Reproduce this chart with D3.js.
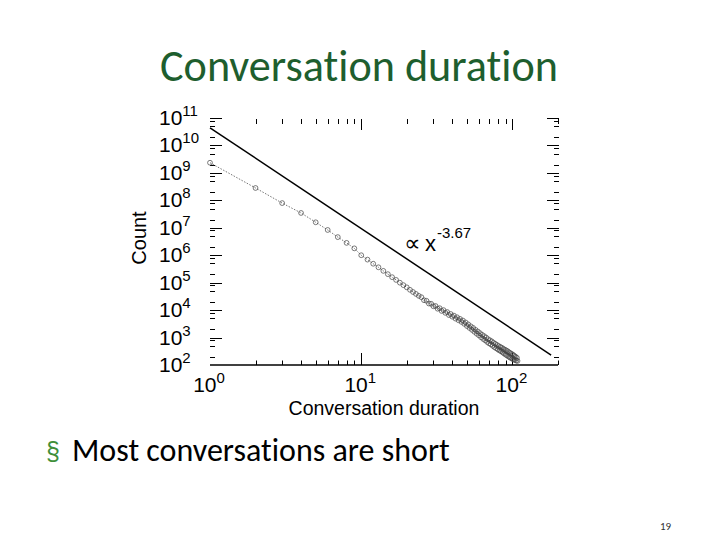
<!DOCTYPE html>
<html>
<head>
<meta charset="utf-8">
<script src="https://cdn.jsdelivr.net/npm/d3@7"></script>
<style>
  html, body { margin: 0; padding: 0; background: #fff; }
  svg { display: block; }
  text { font-variant-ligatures: none; font-feature-settings: "liga" 0, "clig" 0; }
</style>
</head>
<body>
<svg id="chart" width="720" height="540"></svg>
<script>
// ---------- data ----------
const slideTitle = "Conversation duration";
const bulletText = "Most conversations are short";
const pageNumber = "19";
const xAxisTitle = "Conversation duration";
const yAxisTitle = "Count";
const fitLabelBase = "x";
const fitLabelExp = "-3.67";

const xTickExponents = [0, 1, 2];
const yTickExponents = [2, 3, 4, 5, 6, 7, 8, 9, 10, 11];
const xMinorMultipliers = [2, 3, 4, 5, 6, 7, 8, 9];
const yMinorMultipliers = [2, 5, 8];

// durations (x) and log10 of counts (y)
const durations = [1,2,3,4,5,6,7,8,9,10,11,12,13,14,15,16,17,18,19,20,
  21,22,23,24,25,26,27,28,29,30,31,32,33,34,35,36,37,38,39,40,
  41,42,43,44,45,46,47,48,49,50,51,52,53,54,55,56,57,58,59,60,
  61,62,63,64,65,66,67,68,69,70,71,72,73,74,75,76,77,78,79,80,
  81,82,83,84,85,86,87,88,89,90,91,92,93,94,95,96,97,98,99,100,
  101,102,103,104,105,106,107,108];
const countExponents = [9.37,8.45,7.90,7.54,7.20,6.92,6.66,6.45,6.25,6.00,
  5.84,5.69,5.56,5.43,5.31,5.20,5.10,5.00,4.91,4.83,
  4.74,4.66,4.59,4.52,4.47,4.36,4.34,4.24,4.23,4.14,
  4.15,4.05,4.07,3.97,4.00,3.90,3.93,3.82,3.86,3.76,
  3.80,3.69,3.74,3.63,3.68,3.57,3.62,3.50,3.55,3.42,
  3.48,3.35,3.41,3.28,3.35,3.21,3.28,3.14,3.22,3.08,
  3.16,3.01,3.10,2.95,3.05,2.90,3.00,2.84,2.94,2.79,
  2.90,2.75,2.86,2.70,2.81,2.65,2.77,2.61,2.73,2.57,
  2.69,2.53,2.66,2.50,2.63,2.46,2.59,2.42,2.56,2.38,
  2.53,2.35,2.50,2.31,2.46,2.28,2.43,2.25,2.40,2.22,
  2.37,2.20,2.33,2.18,2.30,2.16,2.26,2.15];

// power-law reference line endpoints (x, count)
const fitX = [1, 180];
const fitCount = [4.4e10, 2.3e2];

// ---------- layout ----------
const svg = d3.select("#chart");
const plot = { left: 210, right: 558, top: 118, bottom: 365 };
const axisFont = "'Liberation Sans', Arial, sans-serif";
const titleFont = "Carlito, Calibri, Lato, 'Open Sans', sans-serif";

const x = d3.scaleLog().domain([1, 200]).range([plot.left, plot.right]);
const y = d3.scaleLog().domain([1e2, 1e11]).range([plot.bottom, plot.top]);

// slide title
const title = svg.append("text")
  .attr("x", 359).attr("y", 81)
  .attr("text-anchor", "middle")
  .attr("font-family", titleFont)
  .attr("font-size", 40)
  .attr("fill", "#1e5e2e")
  .text(slideTitle);
{
  const w = title.node().getComputedTextLength();
  title.attr("font-size", 40 * 398 / w);
}

// bullet
svg.append("text")
  .attr("x", 46).attr("y", 460)
  .attr("font-family", axisFont)
  .attr("font-size", 25)
  .attr("fill", "#3f8f3a")
  .text("§");
const bullet = svg.append("text")
  .attr("x", 72).attr("y", 461)
  .attr("font-family", titleFont)
  .attr("font-size", 28)
  .attr("fill", "#000")
  .text(bulletText);
{
  const w = bullet.node().getComputedTextLength();
  bullet.attr("font-size", 28 * 378 / w);
}

// page number
svg.append("text")
  .attr("x", 660).attr("y", 530)
  .attr("font-family", titleFont)
  .attr("font-size", 11)
  .attr("fill", "#333")
  .text(pageNumber);

// ---------- axes ----------
const g = svg.append("g");

// bottom axis line
g.append("line")
  .attr("x1", plot.left).attr("x2", plot.right)
  .attr("y1", plot.bottom).attr("y2", plot.bottom)
  .attr("stroke", "#000").attr("stroke-width", 1.5);

function ticksFor(exps, mults, maxV) {
  const out = [];
  exps.forEach(e => {
    out.push({ v: Math.pow(10, e), major: true });
    mults.forEach(m => {
      const v = m * Math.pow(10, e);
      if (v <= maxV) out.push({ v, major: false });
    });
  });
  return out;
}

const xt = ticksFor(xTickExponents, xMinorMultipliers, 200).filter(d => d.v > 1);
g.selectAll(".xb").data(xt).enter().append("line")
  .attr("x1", d => Math.round(x(d.v)) + 0.5).attr("x2", d => Math.round(x(d.v)) + 0.5)
  .attr("y1", plot.bottom).attr("y2", d => plot.bottom - (d.major ? 12 : 4.5))
  .attr("stroke", "#000").attr("stroke-width", 1);
g.selectAll(".xt").data(xt).enter().append("line")
  .attr("x1", d => Math.round(x(d.v)) + 0.5).attr("x2", d => Math.round(x(d.v)) + 0.5)
  .attr("y1", plot.top + 1).attr("y2", d => plot.top + 1 + (d.major ? 11 : 5))
  .attr("stroke", "#000").attr("stroke-width", 1);

const yt = ticksFor(yTickExponents, yMinorMultipliers, 1e11).filter(d => d.v > 1e2);
g.selectAll(".yl").data(yt).enter().append("line")
  .attr("x1", plot.left).attr("x2", d => plot.left + (d.major ? 12 : 5))
  .attr("y1", d => Math.round(y(d.v)) + 0.5).attr("y2", d => Math.round(y(d.v)) + 0.5)
  .attr("stroke", "#000").attr("stroke-width", 1);
g.selectAll(".yr").data(yt).enter().append("line")
  .attr("x1", plot.right + 1).attr("x2", d => plot.right + 1 - (d.major ? 12 : 5))
  .attr("y1", d => Math.round(y(d.v)) + 0.5).attr("y2", d => Math.round(y(d.v)) + 0.5)
  .attr("stroke", "#000").attr("stroke-width", 1);

// x tick labels
xTickExponents.forEach(e => {
  const t = g.append("text")
    .attr("x", x(Math.pow(10, e)) - 1).attr("y", 392)
    .attr("text-anchor", "middle")
    .attr("font-family", axisFont).attr("font-size", 21).attr("fill", "#000");
  t.append("tspan").text("10");
  t.append("tspan").attr("dy", -9).attr("font-size", 15).text(String(e));
});

// y tick labels
yTickExponents.forEach(e => {
  const t = g.append("text")
    .attr("x", 159).attr("y", y(Math.pow(10, e)) + 7)
    .attr("font-family", axisFont).attr("font-size", 21).attr("fill", "#000");
  t.append("tspan").text("10");
  t.append("tspan").attr("dy", -9).attr("font-size", 15).text(String(e));
});

// axis titles
g.append("text")
  .attr("x", 384).attr("y", 415)
  .attr("text-anchor", "middle")
  .attr("font-family", axisFont).attr("font-size", 19.5).attr("fill", "#000")
  .text(xAxisTitle);
g.append("text")
  .attr("transform", "translate(146,238) rotate(-90)")
  .attr("text-anchor", "middle")
  .attr("font-family", axisFont).attr("font-size", 20).attr("fill", "#000")
  .text(yAxisTitle);

// ---------- marks ----------
const fitData = fitX.map((v, i) => [v, fitCount[i]]);
g.append("path")
  .datum(fitData)
  .attr("d", d3.line().x(d => x(d[0])).y(d => y(d[1])))
  .attr("fill", "none").attr("stroke", "#000").attr("stroke-width", 1.5);

const series = durations.map((d, i) => [d, Math.pow(10, countExponents[i])]);
g.append("path")
  .datum(series)
  .attr("d", d3.line().x(d => x(d[0])).y(d => y(d[1])))
  .attr("fill", "none").attr("stroke", "#666").attr("stroke-width", 0.9)
  .attr("stroke-dasharray", "1.5,1.5");
g.selectAll(".pt").data(series).enter().append("circle")
  .attr("cx", d => x(d[0])).attr("cy", d => y(d[1]))
  .attr("r", 2.4)
  .attr("fill", "none").attr("stroke", "#444").attr("stroke-width", 0.7);

// annotation
g.append("text")
  .attr("x", 404).attr("y", 251)
  .attr("font-family", "'DejaVu Sans', sans-serif").attr("font-size", 23).attr("fill", "#000")
  .text("∝");
const ann = g.append("text")
  .attr("x", 425).attr("y", 251)
  .attr("font-family", axisFont).attr("font-size", 22).attr("fill", "#000");
ann.append("tspan").text(fitLabelBase);
ann.append("tspan").attr("dx", 1).attr("dy", -13).attr("font-size", 15).text(fitLabelExp);
</script>
</body>
</html>
